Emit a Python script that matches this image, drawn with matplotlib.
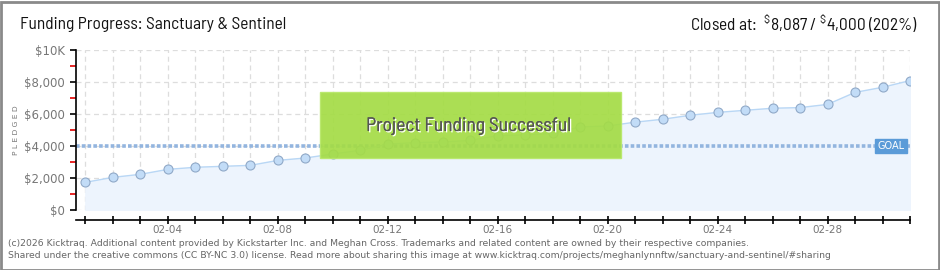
import matplotlib
matplotlib.use("Agg")
import matplotlib.pyplot as plt
from matplotlib.patches import Rectangle
import matplotlib.patheffects as pe
import numpy as np

# ---- data ----
dates = ["02-01", "02-02", "02-03", "02-04", "02-05", "02-06", "02-07", "02-08",
         "02-09", "02-10", "02-11", "02-12", "02-13", "02-14", "02-15", "02-16",
         "02-17", "02-18", "02-19", "02-20", "02-21", "02-22", "02-23", "02-24",
         "02-25", "02-26", "02-27", "02-28", "03-01", "03-02", "03-03"]
pledged = [1730, 2040, 2230, 2540, 2670, 2730, 2790, 3100,
           3250, 3500, 3730, 4120, 4210, 4250, 4350, 4650,
           4690, 4790, 5190, 5250, 5490, 5670, 5920, 6100,
           6230, 6360, 6400, 6600, 7350, 7670, 8087]
goal = 4000
yticks = [0, 2000, 4000, 6000, 8000, 10000]
ytick_labels = ["$0", "$2,000", "$4,000", "$6,000", "$8,000", "$10K"]
xtick_labels_shown = ["02-04", "02-08", "02-12", "02-16", "02-20", "02-24", "02-28"]

TITLE_FONT = ["Barlow Semi Condensed", "DejaVu Sans"]
plt.rcParams["font.family"] = ["DejaVu Sans"]
plt.rcParams["mathtext.fontset"] = "custom"
plt.rcParams["mathtext.rm"] = "Barlow Semi Condensed"
plt.rcParams["mathtext.it"] = "Barlow Semi Condensed"
plt.rcParams["mathtext.default"] = "regular"

W, H = 940, 270
fig = plt.figure(figsize=(W / 100, H / 100), dpi=100)
fig.patch.set_facecolor("white")

# border
fig.add_artist(Rectangle((0.5 / W, 0.5 / H), 1 - 2 / W, 1 - 2 / H,
                         transform=fig.transFigure, fill=False,
                         edgecolor="#8a8a8a", linewidth=2))

left, right, top, bottom = 76, 910, 50, 210
ax = fig.add_axes([left / W, 1 - bottom / H, (right - left) / W, (bottom - top) / H])

x = np.arange(len(dates))
ax.set_xlim(-0.34, len(dates) - 1)
ax.set_ylim(0, 10000)

# fill + line + markers
ax.fill_between(x, 0, pledged, color="#edf4fd", zorder=1)
ax.plot(x, pledged, color="#b9d7f5", linewidth=1, zorder=3)
ax.plot(x, pledged, linestyle="none", marker="o", markersize=6.5,
        markerfacecolor="#c2dcf7", markeredgecolor="#90a9c8",
        markeredgewidth=0.8, zorder=4)

# goal line
ax.axhline(goal, color="#93b5df", linewidth=2.6, linestyle=(0, (1, 0.6)), zorder=2)

# ticks / grid
ax.set_yticks(yticks)
ax.set_yticklabels(ytick_labels)
ax.set_yticks([1000, 3000, 5000, 7000, 9000], minor=True)
ax.set_xticks(x)
ax.set_xticklabels([d if d in xtick_labels_shown else "" for d in dates])
ax.grid(True, which="major", color="#dddddd", linestyle=(0, (4, 3)), linewidth=0.9, zorder=0)
ax.set_axisbelow(True)

for s in ["top", "right"]:
    ax.spines[s].set_visible(False)
ax.spines["left"].set_color("black")
ax.spines["left"].set_linewidth(1.2)
ax.spines["bottom"].set_position(("outward", 7))
ax.spines["bottom"].set_color("black")
ax.spines["bottom"].set_linewidth(1.2)
ax.spines["bottom"].set_bounds(-0.34, len(dates) - 1)

ax.tick_params(axis="y", which="major", length=4, width=1.2, color="black",
               labelsize=8.5, labelcolor="#777777", pad=4)
ax.tick_params(axis="y", which="minor", length=4, width=1.2, color="#e00000")
ax.tick_params(axis="x", which="major", length=6, width=1.2, color="black",
               direction="inout", labelsize=7.5, labelcolor="#777777", pad=1)

ax.set_ylabel("P L E D G E D", fontsize=5.4, color="#777777")
ax.yaxis.set_label_coords((19 - left) / (right - left), 0.5)

# goal label
ax.text(len(dates) - 1.2, goal, "GOAL", ha="right", va="center", fontsize=7,
        color="white", zorder=6,
        bbox=dict(boxstyle="square,pad=0.25", facecolor="#5b9bd8", edgecolor="#5b9bd8"))

# success box
bx0, bx1, by0, by1 = 320, 621, 92, 158
fig.add_artist(Rectangle((bx0 / W, 1 - by1 / H), (bx1 - bx0) / W, (by1 - by0) / H,
                         transform=fig.transFigure, facecolor="#a4dc45",
                         edgecolor="#b8e86a", alpha=0.92, linewidth=1, zorder=10))
fig.text(468.5 / W, 1 - 126 / H, "Project Funding Successful",
         ha="center", va="center", fontsize=14, color="#555555", zorder=11,
         family=TITLE_FONT,
         path_effects=[pe.withSimplePatchShadow(offset=(1, -1), shadow_rgbFace="white", alpha=1.0),
                       pe.Normal()])

# titles
fig.text(20 / W, 1 - 24 / H, "Funding Progress: Sanctuary & Sentinel",
         ha="left", va="center", fontsize=12.5, color="#111111", family=TITLE_FONT)
fig.text(918 / W, 1 - 24 / H, r"Closed at:  $^{\$}$8,087 / $^{\$}$4,000 (202%)",
         ha="right", va="center", fontsize=12.5, color="#111111", family=TITLE_FONT)

# footer
fig.text(8 / W, 1 - 243 / H,
         "(c)2026 Kicktraq. Additional content provided by Kickstarter Inc. and Meghan Cross. "
         "Trademarks and related content are owned by their respective companies.",
         ha="left", va="center", fontsize=6.65, color="#666666")
fig.text(8 / W, 1 - 256 / H,
         "Shared under the creative commons (CC BY-NC 3.0) license. Read more about sharing this image at "
         "www.kicktraq.com/projects/meghanlynnftw/sanctuary-and-sentinel/#sharing",
         ha="left", va="center", fontsize=6.65, color="#666666")

fig.savefig("out.png", dpi=100, facecolor="white")
